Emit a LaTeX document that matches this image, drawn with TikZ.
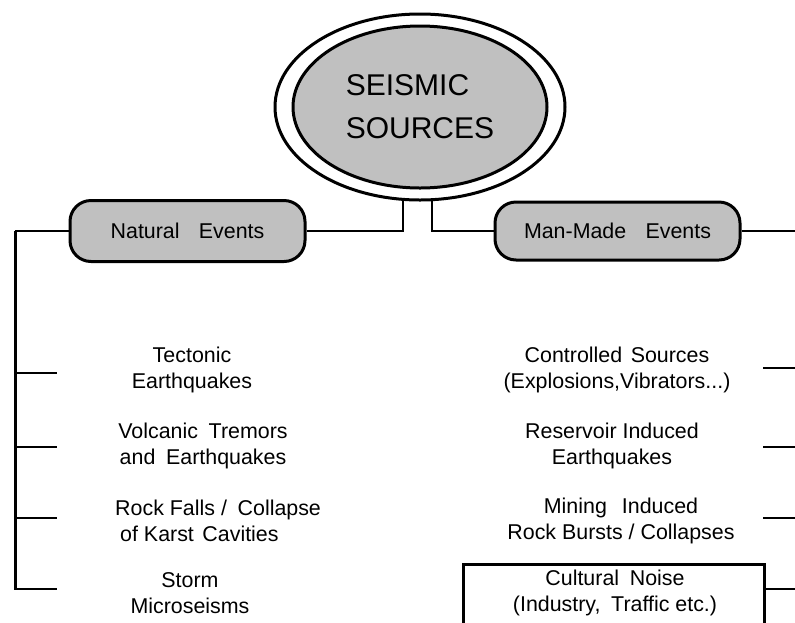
\documentclass[tikz,border=0pt]{standalone}
\usepackage{fontspec}
\setmainfont{Liberation Sans}
\usetikzlibrary{shapes.geometric}
\definecolor{boxgray}{HTML}{C0C0C0}
\begin{document}
\begin{tikzpicture}[x=1pt,y=-1pt,
  conn/.style={line width=2pt},
  trunk/.style={line width=3pt},
  tickline/.style={line width=2.8pt},
  evbox/.style={draw,line width=3pt,fill=boxgray,rounded corners=21pt,inner sep=0pt,font=\fontsize{21.4}{26}\selectfont},
  item/.style={align=center,inner sep=0pt,font=\fontsize{21.4}{26}\selectfont}]
\clip (0,0) rectangle (795,622);
% title ellipses
\node[ellipse,draw,line width=3pt,minimum width=290pt,minimum height=186pt,inner sep=0pt] (outer) at (420,107) {};
\node[ellipse,draw,line width=3pt,fill=boxgray,minimum width=254pt,minimum height=162pt,inner sep=0pt,align=left,font=\fontsize{30}{43}\selectfont] (title) at (420,107) {SEISMIC\\SOURCES};
% event boxes
\node[evbox,minimum width=235pt,minimum height=61pt] (nat) at (187.5,231) {Natural\hspace{0.9em}Events\hspace{8pt}};
\node[evbox,minimum width=245pt,minimum height=58pt] (man) at (617.5,231) {Man-Made\hspace{0.9em}Events\hspace{20pt}};
% connectors
\coordinate (j1) at (403,199);
\coordinate (j2) at (432,199);
\draw[conn] (j1) |- (nat.east);
\draw[conn] (j2) |- (man.west);
\coordinate (lcorner) at (15,231);
\coordinate (lbot) at (15,590);
\draw[conn] (nat.west) -- (lcorner);
\draw[trunk] (lcorner) -- (lbot);
\coordinate (redge) at (800,231);
\draw[conn] (man.east) -- (redge);
% ticks
\foreach \yy in {373,447,518,589} \draw[tickline] (15,\yy) -- (57,\yy);
\foreach \yy in {368,447,518,589} \draw[tickline] (763,\yy) -- (800,\yy);
% cultural noise box
\node[draw,line width=2.5pt,minimum width=301pt,minimum height=90pt,anchor=north west,inner sep=0pt] (cultbox) at (462,563) {};
% items left
\node[item] (tect) at (192,370) {Tectonic\\Earthquakes};
\node[item] (volc) at (203,445.5) {Volcanic\hspace{0.5em}Tremors\\and\hspace{0.5em}Earthquakes};
\node[item,align=left,anchor=west] (rock) at (115,520.5) {Rock Falls /\hspace{0.5em}Collapse\\\hspace{5pt}of Karst\hspace{0.4em}Cavities};
\node[item] (storm) at (190,593) {Storm\\Microseisms};
% items right
\node[item] (ctrl) at (617,370) {Controlled\hspace{0.4em}Sources\\(Explosions,Vibrators...)};
\node[item] (resv) at (612,445.5) {Reservoir Induced\\Earthquakes};
\node[item] (mine) at (621,520.5) {Mining\hspace{0.7em}Induced\\Rock Bursts / Collapses};
\node[item] (cult) at (615,593) {Cultural\hspace{0.5em}Noise\\(Industry,\hspace{0.5em}Traffic etc.)};
\end{tikzpicture}
\end{document}
